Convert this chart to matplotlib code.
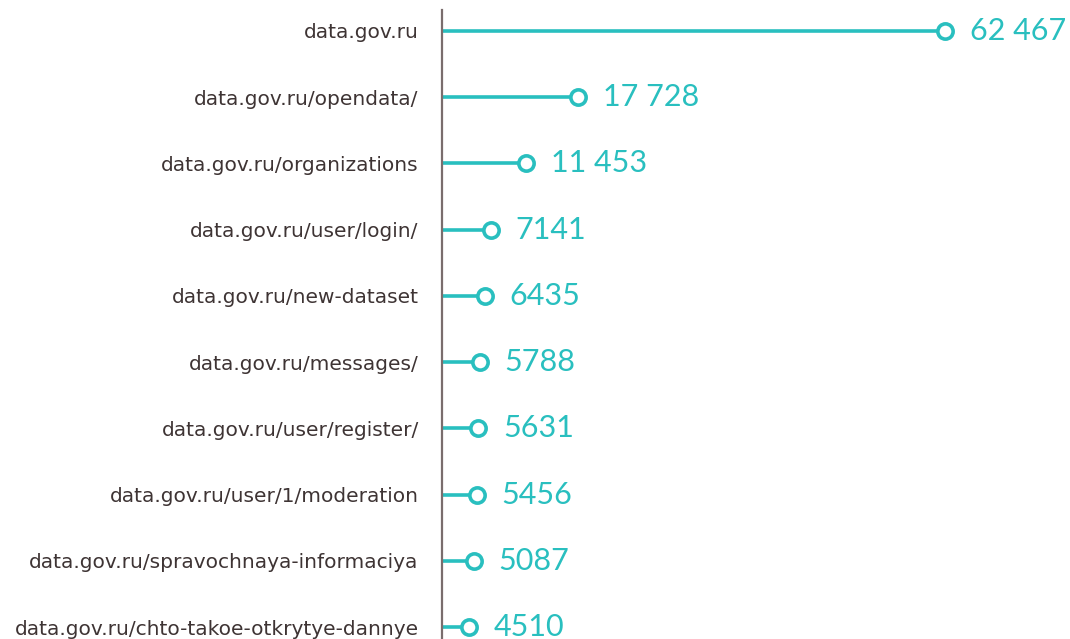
import matplotlib
matplotlib.use('Agg')
from matplotlib import pyplot as plt

pages = ['data.gov.ru', 'data.gov.ru/opendata/', 'data.gov.ru/organizations',
         'data.gov.ru/user/login/', 'data.gov.ru/new-dataset', 'data.gov.ru/messages/',
         'data.gov.ru/user/register/', 'data.gov.ru/user/1/moderation',
         'data.gov.ru/spravochnaya-informaciya', 'data.gov.ru/chto-takoe-otkrytye-dannye']
visits = [62467, 17728, 11453, 7141, 6435, 5788, 5631, 5456, 5087, 4510]
valueLabels = ['62 467', '17 728', '11 453', '7141', '6435', '5788', '5631', '5456', '5087', '4510']

teal = '#29bfbf'
labelColor = '#3e3434'
axisColor = '#7a6d6d'
baseline = 1250

fig = plt.figure(figsize=(10.7, 6.39), dpi=100)
ax = fig.add_axes([432 / 1070, 0, 638 / 1070, 629 / 639])

for side in ['top', 'right', 'bottom']:
    ax.spines[side].set_visible(False)
ax.spines['left'].set_position(('data', baseline))
ax.spines['left'].set_color(axisColor)
ax.spines['left'].set_linewidth(1.6)

rows = list(range(len(pages)))
ax.hlines(rows, baseline, visits, color=teal, lw=2.6, zorder=2)
ax.plot(visits, rows, 'o', ms=11, mfc='white', mec=teal, mew=2.6, zorder=3)

for i in rows:
    ax.annotate(valueLabels[i], (visits[i], i), xytext=(18, 0), textcoords='offset points',
                va='center', ha='left', color=teal, fontsize=22, family='Lato')

ax.set_xlim(0, 77690)
ax.set_ylim(9.18, -0.317)
ax.set_yticks(rows)
ax.set_yticklabels(pages, fontsize=14.5, color=labelColor, family='DejaVu Sans')
ax.tick_params(axis='y', length=0, pad=17)
ax.set_xticks([])

plt.savefig('out.png', dpi=100)
